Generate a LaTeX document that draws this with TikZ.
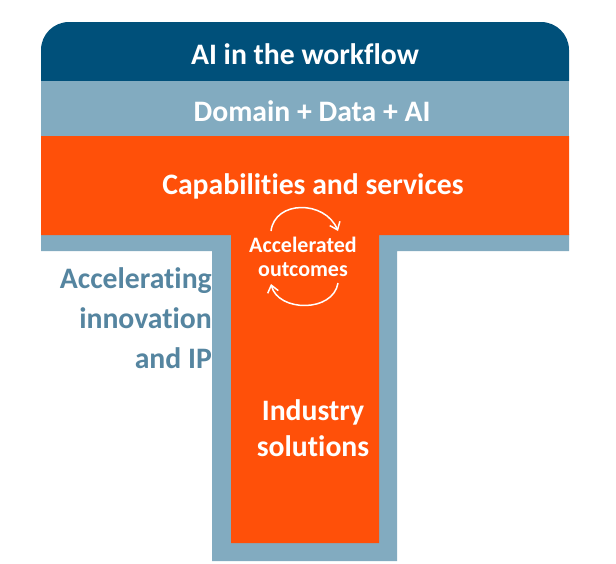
\documentclass[tikz,border=0pt]{standalone}
\usepackage{fontspec}
\setmainfont{Carlito}[Ligatures=NoCommon]
\usetikzlibrary{arrows.meta}
\definecolor{darkband}{HTML}{00507A}
\definecolor{lightband}{HTML}{82ABC0}
\definecolor{orangeband}{HTML}{FF5009}
\definecolor{sidetext}{HTML}{5585A0}
\tikzset{
  x=1pt,y=-1pt,
  bandlabel/.style={text=white,font=\bfseries\fontsize{29.7}{36}\selectfont,inner sep=0pt,align=center},
  smalllabel/.style={text=white,font=\bfseries\fontsize{22}{24}\selectfont,inner sep=0pt,align=center},
  sidelabel/.style={text=sidetext,font=\bfseries\fontsize{29.7}{40}\selectfont,inner sep=0pt,align=right,anchor=north east},
  cyclearrow/.style={white,line width=1.5pt,-{Straight Barb[length=7pt,width=11pt,line width=1.5pt]}}
}
\begin{document}
\begin{tikzpicture}
\useasboundingbox (0,0) rectangle (616,563);
\fill[white] (0,0) rectangle (616,563);
\fill[darkband] (41,81) -- (41,50) .. controls (41,34.5) and (53.5,22) .. (69,22) -- (541,22) .. controls (556.5,22) and (569,34.5) .. (569,50) -- (569,81) -- cycle;
\fill[lightband] (41,81) rectangle (569,137);
\fill[lightband] (41,234) -- (569,234) -- (569,251) -- (397,251) -- (397,561) -- (212,561) -- (212,251) -- (41,251) -- cycle;
\fill[orangeband] (41,136) -- (569,136) -- (569,235) -- (379,235) -- (379,543) -- (231,543) -- (231,235) -- (41,235) -- cycle;
\node[bandlabel] (top) at (305,54) {AI in the workflow};
\node[bandlabel] (domain) at (312,111) {Domain + Data + AI};
\node[bandlabel] (cap) at (313,186) {Capabilities and services};
\node[smalllabel] (acc) at (303,257) {Accelerated\\outcomes};
\node[bandlabel] (ind) at (313,428) {Industry\\solutions};
\node[sidelabel] (side) at (212,267.5) {Accelerating\\innovation\\and IP};
\coordinate (a1) at (271,231);
\coordinate (a2) at (338,231);
\coordinate (b1) at (338,283);
\coordinate (b2) at (271,284);
\draw[cyclearrow] (a1) .. controls (275,200) and (325,200) .. (a2);
\draw[cyclearrow] (b1) .. controls (333,313) and (278,312) .. (b2);
\end{tikzpicture}
\end{document}
